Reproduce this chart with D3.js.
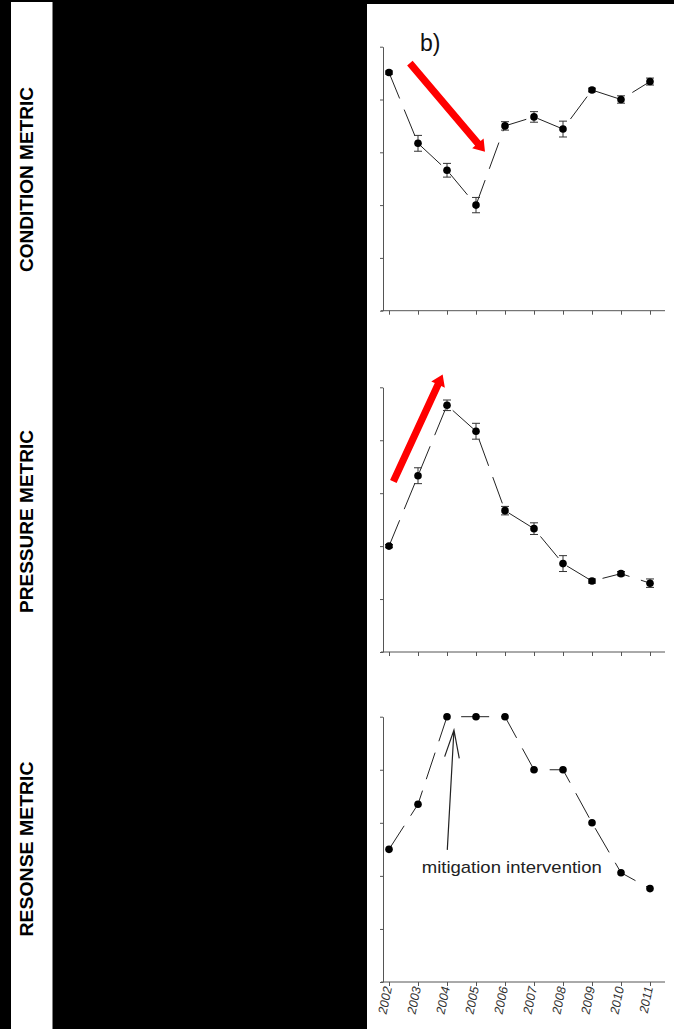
<!DOCTYPE html>
<html>
<head>
<meta charset="utf-8">
<script src="https://cdn.jsdelivr.net/npm/d3@7"></script>
<style>
  html, body { margin: 0; padding: 0; background: #000; }
  svg { display: block; }
</style>
</head>
<body>
<div id="chart"></div>
<script>
// data
var years = [2002, 2003, 2004, 2005, 2006, 2007, 2008, 2009, 2010, 2011];
var conditionValues = [4.51, 3.17, 2.66, 2.0, 3.50, 3.67, 3.44, 4.18, 4.0, 4.34];
var conditionErrors = [0.03, 0.15, 0.13, 0.145, 0.08, 0.1, 0.15, 0.035, 0.07, 0.066];
var pressureValues = [2.0, 3.33, 4.66, 4.17, 2.67, 2.33, 1.67, 1.34, 1.48, 1.30];
var pressureErrors = [0.03, 0.15, 0.1, 0.15, 0.08, 0.11, 0.15, 0.04, 0.04, 0.08];
var responseValues = [2.5, 3.35, 5, 5, 5, 4, 4, 3, 2.06, 1.76];
var yTicks = [0, 1, 2, 3, 4, 5];
var rowLabels = ["CONDITION METRIC", "PRESSURE METRIC", "RESONSE METRIC"];

var width = 674, height = 1029;

var svg = d3.select("#chart").append("svg")
  .attr("width", width)
  .attr("height", height);

// black background with the two white cut-outs
svg.append("rect").attr("width", width).attr("height", height).attr("fill", "#000");
svg.append("rect").attr("x", 11).attr("y", 2).attr("width", 41.5).attr("height", height - 2).attr("fill", "#fff");
svg.append("rect").attr("x", 367).attr("y", 4).attr("width", width - 367).attr("height", height - 4).attr("fill", "#fff");

var x = d3.scaleLinear().domain([2002, 2011]).range([389, 650]);

var panels = [
  { top: 46.7, bottom: 310.7, values: conditionValues, errors: conditionErrors, labelY: 179.5, labelLen: 185 },
  { top: 387.3, bottom: 652, values: pressureValues, errors: pressureErrors, labelY: 521.5, labelLen: 183 },
  { top: 716.7, bottom: 982, values: responseValues, errors: null, labelY: 849, labelLen: 175 }
];

var axisColor = "#555";

panels.forEach(function(p, i) {
  var y = d3.scaleLinear().domain([0, 5]).range([p.bottom, p.top]);
  p.y = y;
  var g = svg.append("g").attr("class", "panel-" + i);

  // y axis, no labels
  var yAxis = d3.axisLeft(y).tickValues(yTicks).tickSize(3).tickSizeOuter(0).tickFormat("");
  var yg = g.append("g").attr("transform", "translate(383,0)").call(yAxis);
  yg.selectAll("line, path").attr("stroke", axisColor);

  // x axis
  var xAxis = d3.axisBottom(x).tickValues(years).tickSize(4).tickFormat("");
  var xg = g.append("g").attr("transform", "translate(0," + p.bottom + ")").call(xAxis);
  xg.select(".domain").remove();
  xg.selectAll("line").attr("stroke", axisColor);
  g.append("line")
    .attr("x1", 381).attr("x2", 665)
    .attr("y1", p.bottom).attr("y2", p.bottom)
    .attr("stroke", axisColor);

  var pts = years.map(function(yr, k) { return { year: yr, v: p.values[k], e: p.errors ? p.errors[k] : 0 }; });

  // long-dashed connecting line
  var line = d3.line().x(function(d) { return x(d.year); }).y(function(d) { return y(d.v); });
  g.append("path")
    .datum(pts)
    .attr("d", line)
    .attr("fill", "none")
    .attr("stroke", "#222")
    .attr("stroke-width", 1)
    .attr("stroke-dasharray", "28,12");

  // error bars
  if (p.errors) {
    var eb = g.selectAll("g.err").data(pts).enter().append("g").attr("class", "err")
      .attr("stroke", "#333").attr("stroke-width", 1);
    eb.append("line")
      .attr("x1", function(d) { return x(d.year); })
      .attr("x2", function(d) { return x(d.year); })
      .attr("y1", function(d) { return y(d.v - d.e); })
      .attr("y2", function(d) { return y(d.v + d.e); });
    eb.append("line")
      .attr("x1", function(d) { return x(d.year) - 4; })
      .attr("x2", function(d) { return x(d.year) + 4; })
      .attr("y1", function(d) { return y(d.v + d.e); })
      .attr("y2", function(d) { return y(d.v + d.e); });
    eb.append("line")
      .attr("x1", function(d) { return x(d.year) - 4; })
      .attr("x2", function(d) { return x(d.year) + 4; })
      .attr("y1", function(d) { return y(d.v - d.e); })
      .attr("y2", function(d) { return y(d.v - d.e); });
  }

  // points
  g.selectAll("circle.dot").data(pts).enter().append("circle")
    .attr("class", "dot")
    .attr("cx", function(d) { return x(d.year); })
    .attr("cy", function(d) { return y(d.v); })
    .attr("r", 3.8)
    .attr("fill", "#000");

  // row label on the left strip (narrow bold look)
  svg.append("text")
    .attr("transform", "translate(33," + p.labelY + ") rotate(-90)")
    .attr("text-anchor", "middle")
    .attr("font-family", "'Liberation Sans Narrow', 'Liberation Sans', Arial, sans-serif")
    .attr("font-weight", "bold")
    .attr("font-size", 18.5)
    .attr("textLength", p.labelLen)
    .attr("lengthAdjust", "spacingAndGlyphs")
    .attr("fill", "#000")
    .text(rowLabels[i]);
});

// year labels under the bottom panel
svg.append("g").selectAll("text").data(years).enter().append("text")
  .attr("transform", function(d) { return "translate(" + (x(d) + 3) + ",988) rotate(-78) skewX(-8)"; })
  .attr("text-anchor", "end")
  .attr("font-family", "'Liberation Sans', Arial, sans-serif")
  .attr("font-size", 12.5)
  .attr("fill", "#333")
  .text(function(d) { return d; });

// annotations (in data units)
var redArrows = [
  { panel: 0, from: [2002.72, 4.69], to: [2005.31, 3.01] },
  { panel: 1, from: [2002.15, 3.22], to: [2003.85, 5.24] }
];
redArrows.forEach(function(a) {
  var y = panels[a.panel].y;
  var x0 = x(a.from[0]), y0 = y(a.from[1]), x1 = x(a.to[0]), y1 = y(a.to[1]);
  var dx = x1 - x0, dy = y1 - y0, len = Math.sqrt(dx * dx + dy * dy);
  var ux = dx / len, uy = dy / len, nx = -uy, ny = ux;
  var headLen = 11, headW = 7.5, shaftW = 3.6;
  var bx = x1 - ux * headLen, by = y1 - uy * headLen;
  var poly = [
    [x0 + nx * shaftW, y0 + ny * shaftW],
    [bx + nx * shaftW, by + ny * shaftW],
    [bx + nx * headW, by + ny * headW],
    [x1, y1],
    [bx - nx * headW, by - ny * headW],
    [bx - nx * shaftW, by - ny * shaftW],
    [x0 - nx * shaftW, y0 - ny * shaftW]
  ];
  svg.append("path").attr("d", "M" + poly.join("L") + "Z").attr("fill", "#ff0000");
});

// "b)" panel tag
svg.append("text")
  .attr("x", x(2003.07)).attr("y", panels[0].y(4.92))
  .attr("font-family", "'Liberation Sans', Arial, sans-serif")
  .attr("font-size", 23)
  .attr("fill", "#111")
  .text("b)");

// mitigation intervention arrow + label
var mit = { from: [2004.01, 2.49], to: [2004.24, 4.75], textAt: [2003.13, 2.06] };
var ym = panels[2].y;
var mx0 = x(mit.from[0]), my0 = ym(mit.from[1]), mx1 = x(mit.to[0]), my1 = ym(mit.to[1]);
svg.append("path")
  .attr("d", "M" + mx0 + "," + my0 + "L" + mx1 + "," + my1 +
    "M" + (mx1 - 9.3) + "," + (my1 + 26.7) + "L" + mx1 + "," + my1 + "L" + (mx1 + 5.3) + "," + (my1 + 28.3))
  .attr("fill", "none")
  .attr("stroke", "#222")
  .attr("stroke-width", 1.2);
svg.append("text")
  .attr("x", x(mit.textAt[0])).attr("y", ym(mit.textAt[1]))
  .attr("font-family", "'Liberation Sans', Arial, sans-serif")
  .attr("font-size", 17)
  .attr("textLength", 180)
  .attr("lengthAdjust", "spacingAndGlyphs")
  .attr("fill", "#222")
  .text("mitigation intervention");
</script>
</body>
</html>
